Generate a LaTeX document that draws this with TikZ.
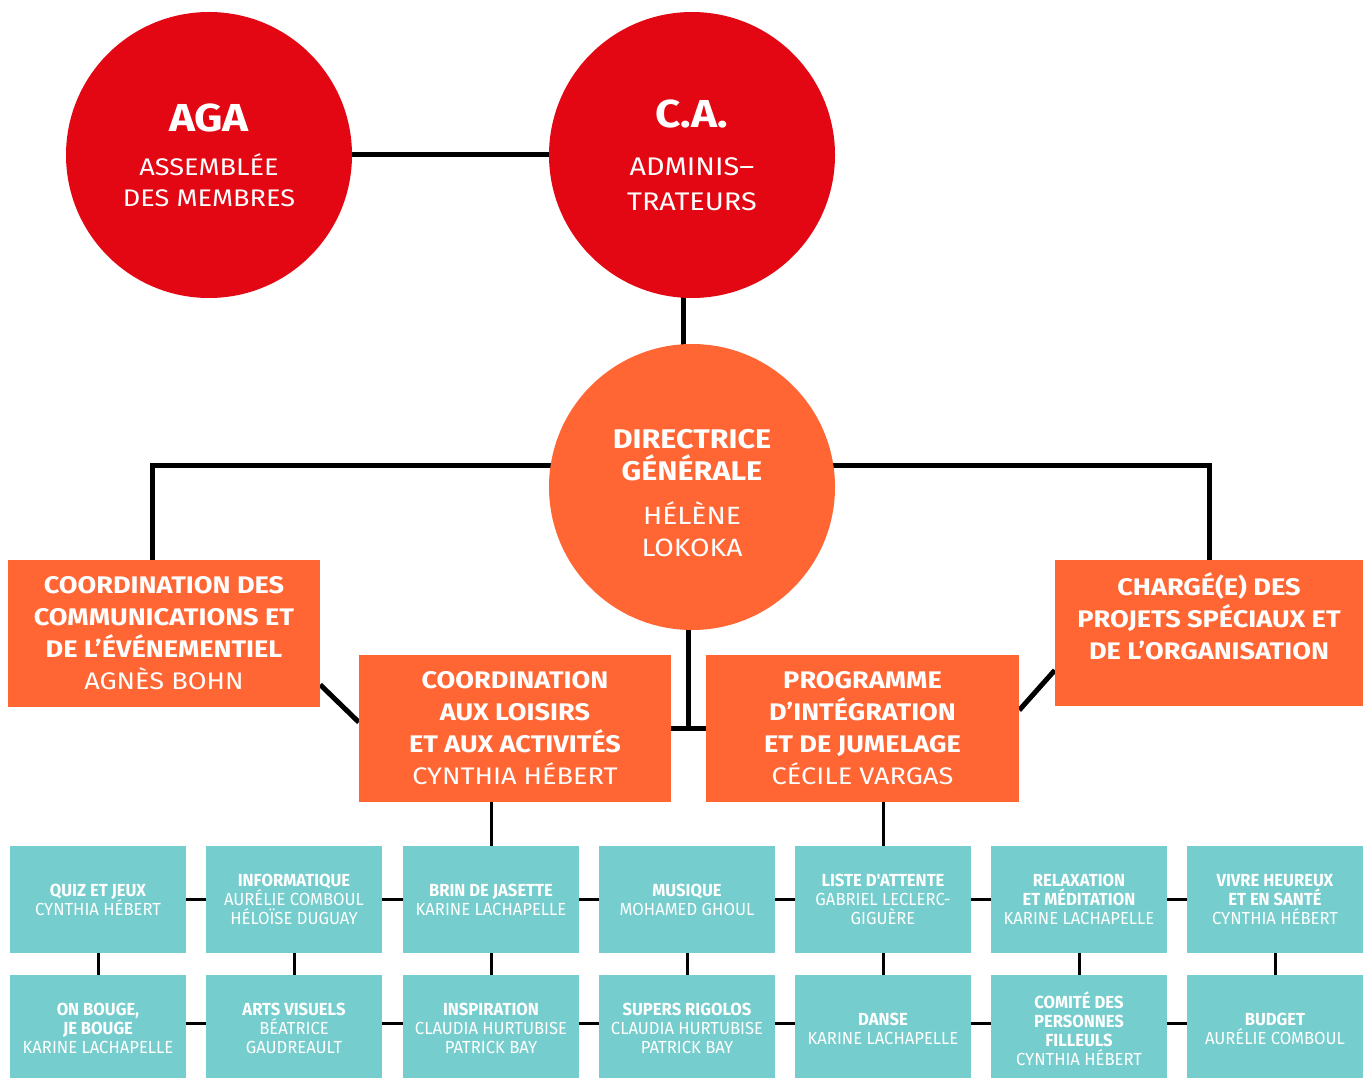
\documentclass[tikz,border=0pt]{standalone}
\usepackage{fontspec}
\setmainfont[FakeStretch=1.13]{Fira Sans}
\newfontfamily\condfont[FakeStretch=0.95]{Fira Sans}
\usetikzlibrary{backgrounds,calc}
\definecolor{cred}{RGB}{227,6,19}
\definecolor{corange}{RGB}{255,102,51}
\definecolor{cteal}{RGB}{118,205,205}
\newcommand{\bt}[1]{{\bfseries #1}}
\begin{document}
\begin{tikzpicture}[x=1pt,y=-1pt,
  redcirc/.style={circle,fill=cred,text=white,minimum size=286pt,inner sep=0pt,align=center,font=\fontsize{24}{31}\selectfont},
  orcirc/.style={circle,fill=corange,text=white,minimum size=286pt,inner sep=0pt,align=center,font=\fontsize{25}{32}\selectfont},
  orbox/.style={rectangle,fill=corange,text=white,inner sep=0pt,minimum height=147pt,align=center,font=\fontsize{24}{32}\selectfont},
  tealbox/.style={rectangle,fill=cteal,text=white,inner sep=0pt,minimum width=176pt,minimum height=107pt,align=center,font=\condfont\fontsize{17.5}{19}\selectfont},
  mainline/.style={line width=5pt,black},
  thinline/.style={line width=3pt,black}
]
\useasboundingbox (0,0) rectangle (1363,1078);

% circles
\node[redcirc] (aga) at (209,155) {{\bfseries\fontsize{39}{39}\selectfont AGA}\\[13pt]ASSEMBLÉE\\DES MEMBRES};
\node[redcirc,font=\fontsize{25.5}{35}\selectfont] (ca) at (692,155) {{\bfseries\fontsize{39}{39}\selectfont C.A.}\\[13pt]ADMINIS–\\TRATEURS};
\node[orcirc] (dg) at (692,487) {{\bfseries\fontsize{27}{32}\selectfont\rule{0pt}{31.5pt}DIRECTRICE}\\{\bfseries\fontsize{27}{32}\selectfont GÉNÉRALE}\\[12pt]HÉLÈNE\\LOKOKA};

% orange boxes
\node[orbox,minimum width=312pt] (lb) at (164,633) {\bt{COORDINATION DES}\\\bt{COMMUNICATIONS ET}\\\bt{DE L’ÉVÉNEMENTIEL}\\AGNÈS BOHN};
\node[orbox,minimum width=308pt,minimum height=146pt] (rb) at (1209,633) {\bt{CHARGÉ(E) DES}\\\bt{PROJETS SPÉCIAUX ET}\\\bt{DE L’ORGANISATION}\rule[-33pt]{0pt}{33pt}};
\node[orbox,minimum width=312pt] (cl) at (515,728.5) {\bt{COORDINATION}\\\bt{AUX LOISIRS}\\\bt{ET AUX ACTIVITÉS}\\CYNTHIA HÉBERT};
\node[orbox,minimum width=313pt] (pi) at (862.5,728.5) {\bt{PROGRAMME}\\\bt{D’INTÉGRATION}\\\bt{ET DE JUMELAGE}\\CÉCILE VARGAS};

% teal boxes row 1
\node[tealbox] (t1) at (98,899.5) {\bt{QUIZ ET JEUX}\\CYNTHIA HÉBERT};
\node[tealbox] (t2) at (294,899.5) {\bt{INFORMATIQUE}\\AURÉLIE COMBOUL\\HÉLOÏSE DUGUAY};
\node[tealbox] (t3) at (491,899.5) {\bt{BRIN DE JASETTE}\\KARINE LACHAPELLE};
\node[tealbox] (t4) at (687,899.5) {\bt{MUSIQUE}\\MOHAMED GHOUL};
\node[tealbox] (t5) at (883,899.5) {\bt{LISTE D'ATTENTE}\\GABRIEL LECLERC-\\GIGUÈRE};
\node[tealbox] (t6) at (1079,899.5) {\bt{RELAXATION}\\\bt{ET MÉDITATION}\\KARINE LACHAPELLE};
\node[tealbox] (t7) at (1275,899.5) {\bt{VIVRE HEUREUX}\\\bt{ET EN SANTÉ}\\CYNTHIA HÉBERT};
% teal boxes row 2
\node[tealbox] (b1) at (98,1028.5) {\bt{ON BOUGE,}\\\bt{JE BOUGE}\\KARINE LACHAPELLE};
\node[tealbox] (b2) at (294,1028.5) {\bt{ARTS VISUELS}\\BÉATRICE\\GAUDREAULT};
\node[tealbox] (b3) at (491,1028.5) {\bt{INSPIRATION}\\CLAUDIA HURTUBISE\\PATRICK BAY};
\node[tealbox] (b4) at (687,1028.5) {\bt{SUPERS RIGOLOS}\\CLAUDIA HURTUBISE\\PATRICK BAY};
\node[tealbox] (b5) at (883,1028.5) {\bt{DANSE}\\KARINE LACHAPELLE};
\node[tealbox] (b6) at (1079,1028.5) {\bt{COMITÉ DES}\\\bt{PERSONNES}\\\bt{FILLEULS}\\CYNTHIA HÉBERT};
\node[tealbox] (b7) at (1275,1028.5) {\bt{BUDGET}\\AURÉLIE COMBOUL};

\begin{scope}[on background layer]
  \fill[white] (0,0) rectangle (1363,1078);
  \draw[mainline] (aga.center) -- (ca.center);
  \draw[mainline] ([xshift=-9pt]ca.center) -- ([xshift=-9pt]dg.center);
  \draw[mainline] ([yshift=22pt]dg.center) -| ([xshift=-12pt]lb.center);
  \draw[mainline] ([yshift=22pt]dg.center) -| (rb.center);
  \draw[mainline] ([xshift=-4pt]dg.center) -- ([xshift=-4pt]dg.center |- cl.center);
  \draw[mainline] (cl.center) -- (pi.center);
  \draw[mainline] ([yshift=22pt]lb.south east) -- ([yshift=80pt]cl.south west);
  \draw[mainline] ([yshift=92pt]pi.south east) -- ([yshift=36pt]rb.south west);
  \draw[thinline] (cl.center -| t3.center) -- (t3.center);
  \draw[thinline] (pi.center -| t5.center) -- (t5.center);
  \foreach \a/\b in {t1/t2,t2/t3,t3/t4,t4/t5,t5/t6,t6/t7}
    \draw[thinline] (\a.center) -- (\b.center);
  \foreach \a/\b in {b1/b2,b2/b3,b3/b4,b4/b5,b5/b6,b6/b7}
    \draw[thinline] ([yshift=5pt]\a.center) -- ([yshift=5pt]\b.center);
  \foreach \i in {1,...,7}
    \draw[thinline] (t\i.center) -- (b\i.center);
\end{scope}
\end{tikzpicture}
\end{document}
